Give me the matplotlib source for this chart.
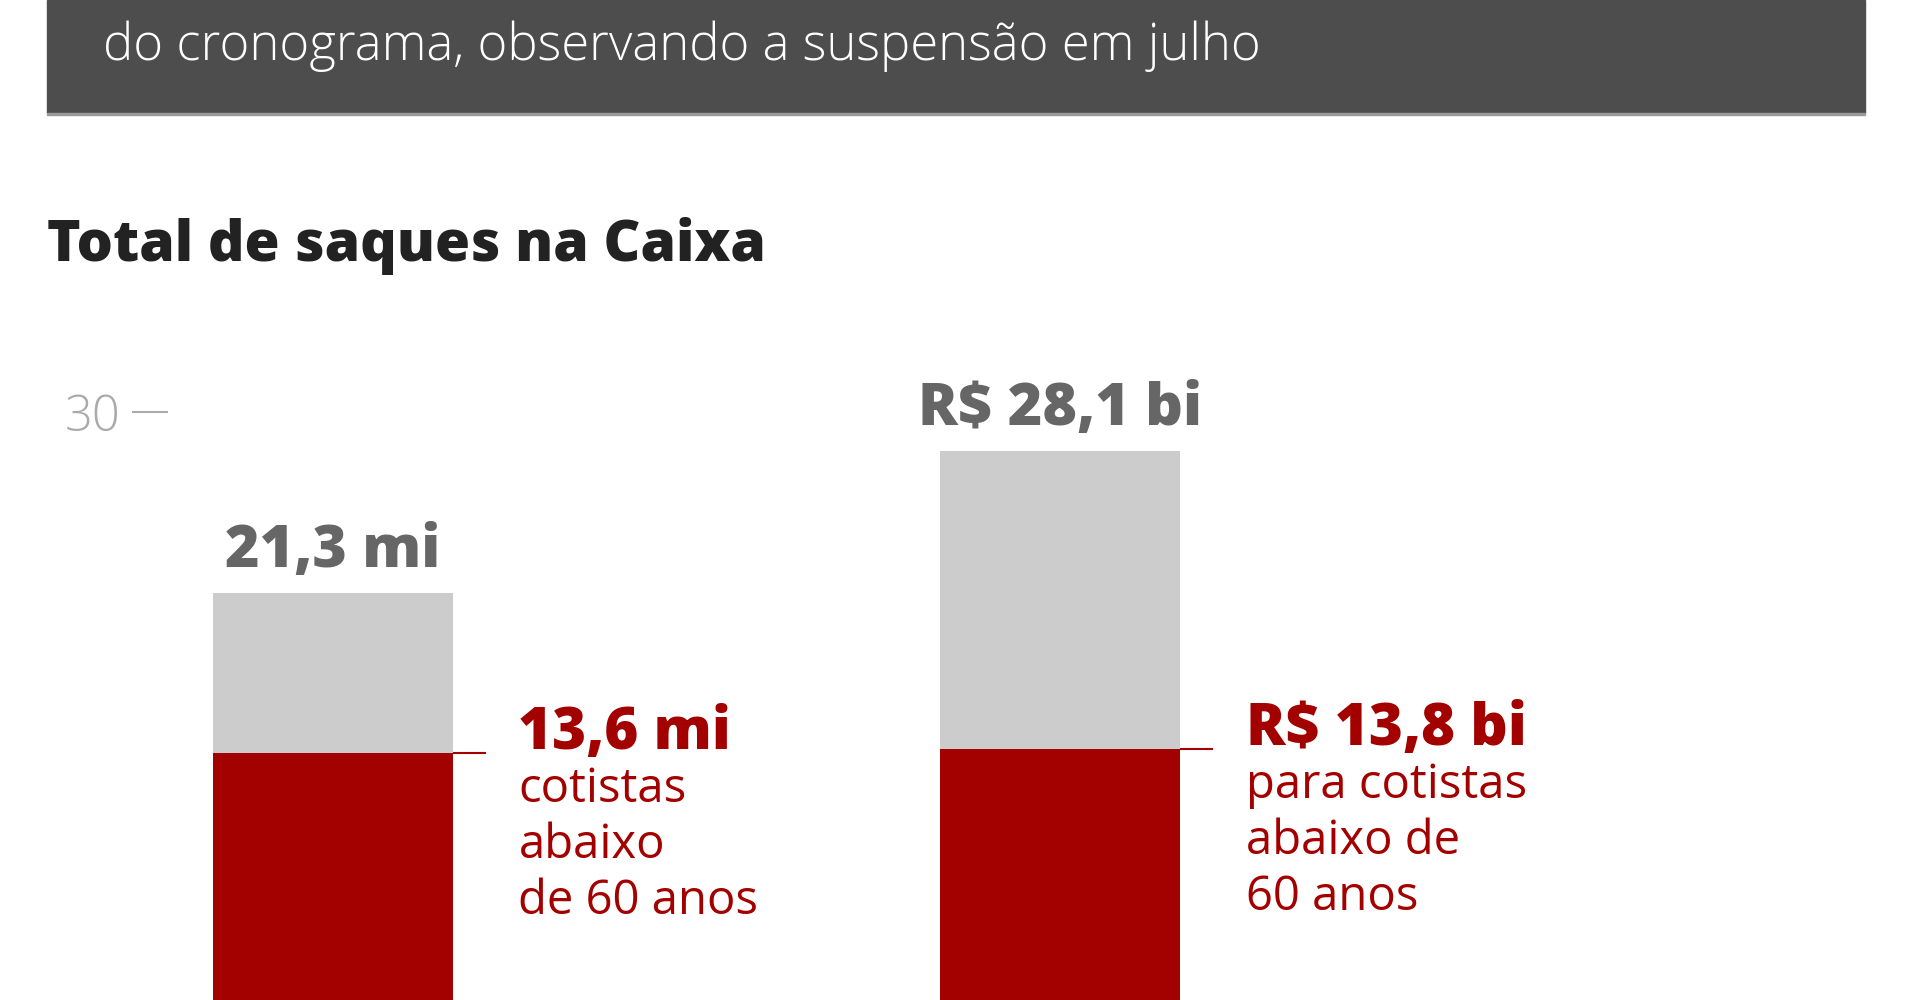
import matplotlib.pyplot as plt
from matplotlib.patches import Rectangle

# data
categories = ["Cotistas (mi)", "Valor (R$ bi)"]
totals = [21.3, 28.1]
under_60 = [13.6, 13.8]
total_labels = ["21,3 mi", "R$ 28,1 bi"]
sub_labels = ["13,6 mi", "R$ 13,8 bi"]
sub_notes = ["cotistas\nabaixo\nde 60 anos", "para cotistas\nabaixo de\n60 anos"]
y_ticks = [30]

RED = "#a30000"
GRAY = "#cccccc"
W, H = 1920, 1000

plt.rcParams["font.family"] = ["Open Sans", "DejaVu Sans"]
fig = plt.figure(figsize=(W / 100, H / 100), dpi=100)


def fx(x):
    return x / W


def fy(y):
    return 1 - y / H


# header banner
fig.patches.append(Rectangle((fx(47), fy(113)), fx(1865) - fx(47), 113 / H,
                             transform=fig.transFigure, color="#4d4d4d", zorder=0))
fig.patches.append(Rectangle((fx(47), fy(115)), fx(1865) - fx(47), 2 / H,
                             transform=fig.transFigure, color="#9a9a9a", zorder=0))
fig.text(fx(103), fy(46), "do cronograma, observando a suspensão em julho",
         color="white", fontsize=36.6, va="center", ha="left", fontweight="light")

fig.text(fx(47), fy(246), "Total de saques na Caixa", color="#222222",
         fontsize=41, fontweight=800, va="center", ha="left")

# chart axes: left edge at tick line end, spans to bottom of figure
ax = fig.add_axes([fx(168), 0, fx(1865) - fx(168), fy(300)])
x = [0, 1]
bw = 0.33
ax.bar(x, totals, width=bw, color=GRAY, zorder=2)
ax.bar(x, under_60, width=bw, color=RED, zorder=3)
ax.set_xlim(-0.227, 2.107)
ax.set_ylim(1.73, 35.38)

for s in ax.spines.values():
    s.set_visible(False)
ax.set_xticks([])
ax.set_yticks(y_ticks)
ax.set_yticklabels([str(t) for t in y_ticks])
ax.tick_params(axis="y", length=26, width=1.5, color="#aaaaaa", labelcolor="#aaaaaa",
               labelsize=35, pad=8)
for lab in ax.get_yticklabels():
    lab.set_fontweight("light")

for i in range(len(x)):
    ax.text(x[i], totals[i] + 2.0, total_labels[i], ha="center", va="center",
            color="#666666", fontsize=42.5, fontweight=800)
    right = x[i] + bw / 2
    ax.plot([right, right + 0.045], [under_60[i], under_60[i]], color=RED, lw=1.5,
            zorder=4, solid_capstyle="butt")
    ax.text(right + 0.09, under_60[i] + 0.95, sub_labels[i], ha="left", va="center",
            color=RED, fontsize=42, fontweight=800)
    ax.text(right + 0.09, under_60[i] - 0.6, sub_notes[i], ha="left", va="top",
            color=RED, fontsize=34, linespacing=1.23)

fig.savefig("out.png", dpi=100)
